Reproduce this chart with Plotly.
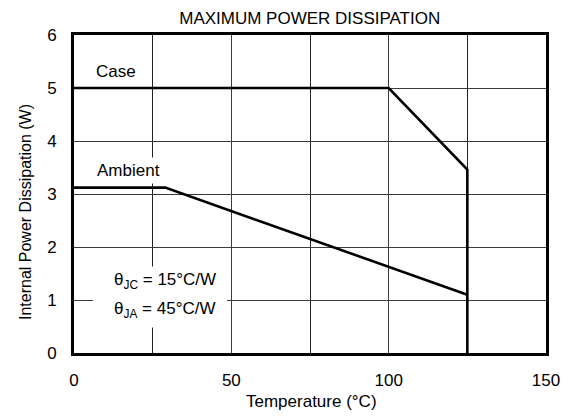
import plotly.graph_objects as go

# Derating curves: power limit vs temperature
case_temp = [0, 100, 125, 125]
case_power = [5.0, 5.0, 3.46, 0.0]

ambient_temp = [0, 29, 125]
ambient_power = [3.12, 3.12, 1.10]

x_ticks = [0, 50, 100, 150]
y_ticks = [0, 1, 2, 3, 4, 5, 6]

FONT = "Liberation Sans, Arial, sans-serif"
FS = 17

fig = go.Figure()
fig.add_trace(go.Scatter(x=case_temp, y=case_power, mode="lines",
                         line=dict(color="black", width=2.6), name="Case"))
fig.add_trace(go.Scatter(x=ambient_temp, y=ambient_power, mode="lines",
                         line=dict(color="black", width=2.6), name="Ambient"))

fig.add_annotation(x=13.2, y=5.31, text="Case", showarrow=False,
                   font=dict(size=FS, color="black"))
fig.add_annotation(x=17.2, y=3.44, text="Ambient", showarrow=False,
                   font=dict(size=FS, color="black"), bgcolor="white", borderpad=3)

# White panel behind the thermal-resistance note (hides the grid)
fig.add_shape(type="rect", x0=6.0, x1=48.6, y0=0.48, y1=1.63,
              fillcolor="white", line=dict(width=0), layer="between")
fig.add_annotation(x=28.8, y=1.35, text="θ<sub>JC</sub> = 15°C/W",
                   showarrow=False, font=dict(size=FS, color="black"))
fig.add_annotation(x=28.8, y=0.82, text="θ<sub>JA</sub> = 45°C/W",
                   showarrow=False, font=dict(size=FS, color="black"))

# Axis titles
fig.add_annotation(xref="paper", yref="paper", x=-0.104, y=0.443,
                   text="Internal Power Dissipation (W)", textangle=-90,
                   showarrow=False, xanchor="center", yanchor="middle",
                   font=dict(size=16, color="black"))
fig.add_annotation(xref="paper", yref="paper", x=0.503, y=-0.151,
                   text="Temperature (°C)", showarrow=False,
                   xanchor="center", yanchor="middle",
                   font=dict(size=FS, color="black"))

fig.update_layout(
    width=572, height=418,
    margin=dict(l=74, r=26, t=35, b=65),
    paper_bgcolor="white", plot_bgcolor="white",
    showlegend=False,
    font=dict(family=FONT, size=FS, color="black"),
    title=dict(text="MAXIMUM POWER DISSIPATION", x=0.5415, xanchor="center",
               y=0.958, yanchor="middle", font=dict(size=FS, color="black")),
    xaxis=dict(range=[0, 150], tickvals=x_ticks,
               showgrid=True, gridcolor="#3c3c3c", gridwidth=1,
               showline=True, linecolor="black", linewidth=2.6, mirror=True,
               ticks="", ticklabelstandoff=10, zeroline=False,
               minor=dict(tickvals=[25, 75, 125], showgrid=True,
                          gridcolor="#222", gridwidth=1)),
    yaxis=dict(range=[0, 6], tickvals=y_ticks,
               showgrid=True, gridcolor="#3c3c3c", gridwidth=1,
               showline=True, linecolor="black", linewidth=2.6, mirror=True,
               ticks="", ticklabelstandoff=11, zeroline=False),
)

fig.write_html("out.html")
